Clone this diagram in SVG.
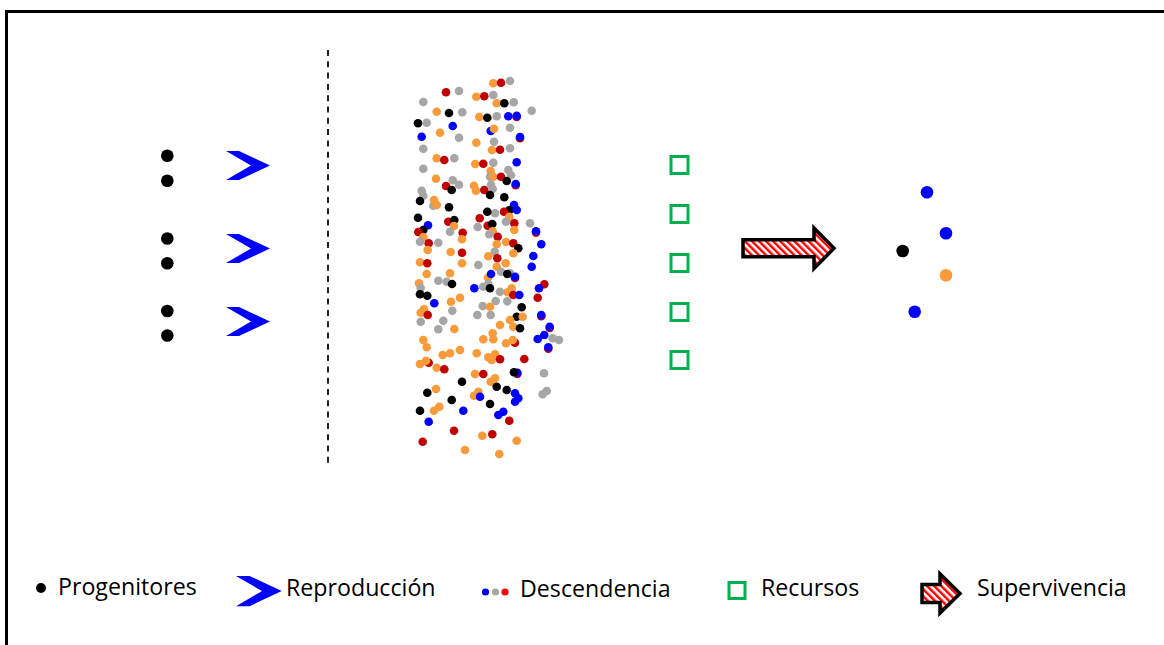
<svg xmlns="http://www.w3.org/2000/svg" width="1164" height="645" viewBox="0 0 1164 645">
<defs>
<style>
.o{fill:#F99A3B}.g{fill:#A6A6A6}.r{fill:#C00000}.k{fill:#000}.b{fill:#0000FF}
.chev{fill:#0000FF}
.res{fill:none;stroke:#00B050;stroke-width:3}
.surv{fill:url(#stripes);stroke:#000;stroke-width:3.5;stroke-linejoin:miter}
.lbl{font-family:"Open Sans","Liberation Sans",sans-serif;font-size:23.2px;fill:#000}
</style>
<pattern id="stripes" patternUnits="userSpaceOnUse" width="5" height="5" patternTransform="rotate(-45)">
<rect width="5" height="5" fill="#fff"/>
<rect width="2.5" height="5" fill="#FF0000"/>
</pattern>
<polygon id="chevron" points="0,0 13,0 44,14.5 13,29 0,29 25,14.5"/>
</defs>
<rect width="1164" height="645" fill="#fff"/>
<path d="M6.5,645 V11.5 H1164" fill="none" stroke="#000" stroke-width="3"/>

<g id="progenitores">
<circle class="k" cx="167.3" cy="155.7" r="6.3"/>
<circle class="k" cx="167.3" cy="180.8" r="6.3"/>
<circle class="k" cx="167.3" cy="238.5" r="6.3"/>
<circle class="k" cx="167.3" cy="263.3" r="6.3"/>
<circle class="k" cx="167.3" cy="311" r="6.3"/>
<circle class="k" cx="167.3" cy="335.5" r="6.3"/>
</g>

<g id="reproduccion">
<use href="#chevron" class="chev" x="226" y="151"/>
<use href="#chevron" class="chev" x="226" y="234"/>
<use href="#chevron" class="chev" x="226" y="307"/>
</g>

<g id="separador">
<line x1="328" y1="50" x2="328" y2="467" stroke="#222" stroke-width="2" stroke-dasharray="6,5.3"/>
</g>

<g id="descendencia">
<circle class="o" cx="493.3" cy="83.3" r="4.3"/>
<circle class="r" cx="501" cy="82.7" r="4.3"/>
<circle class="g" cx="510" cy="81" r="4.3"/>
<circle class="r" cx="446" cy="92.3" r="4.3"/>
<circle class="g" cx="459" cy="91" r="4.3"/>
<circle class="o" cx="476.3" cy="96.7" r="4.3"/>
<circle class="r" cx="484.3" cy="96.3" r="4.3"/>
<circle class="g" cx="493.3" cy="95" r="4.3"/>
<circle class="g" cx="423.3" cy="102" r="4.3"/>
<circle class="o" cx="496.7" cy="103.3" r="4.3"/>
<circle class="k" cx="504.3" cy="103.3" r="4.3"/>
<circle class="g" cx="513.7" cy="102.3" r="4.3"/>
<circle class="g" cx="531.7" cy="110.7" r="4.3"/>
<circle class="o" cx="436.7" cy="111.7" r="4.3"/>
<circle class="k" cx="449" cy="113" r="4.3"/>
<circle class="g" cx="462.3" cy="112.3" r="4.3"/>
<circle class="o" cx="479.3" cy="117" r="4.3"/>
<circle class="k" cx="487.3" cy="117.7" r="4.3"/>
<circle class="g" cx="496.7" cy="116.3" r="4.3"/>
<circle class="b" cx="508.3" cy="116.3" r="4.3"/>
<circle class="r" cx="516.7" cy="117" r="4.3"/>
<circle class="b" cx="516.7" cy="115.7" r="4.3"/>
<circle class="k" cx="418" cy="123.3" r="4.3"/>
<circle class="g" cx="426.7" cy="122.7" r="4.3"/>
<circle class="b" cx="452.7" cy="126" r="4.3"/>
<circle class="o" cx="440" cy="132.7" r="4.3"/>
<circle class="b" cx="490.7" cy="131" r="4.3"/>
<circle class="o" cx="494" cy="128.7" r="4.3"/>
<circle class="g" cx="510" cy="127.7" r="4.3"/>
<circle class="b" cx="421.7" cy="136.7" r="4.3"/>
<circle class="g" cx="459" cy="137.7" r="4.3"/>
<circle class="r" cx="520" cy="138.3" r="4.3"/>
<circle class="b" cx="520" cy="137" r="4.3"/>
<circle class="o" cx="476.3" cy="142.7" r="4.3"/>
<circle class="g" cx="494" cy="141.7" r="4.3"/>
<circle class="g" cx="423.3" cy="148.7" r="4.3"/>
<circle class="o" cx="492" cy="150" r="4.3"/>
<circle class="r" cx="500" cy="149.7" r="4.3"/>
<circle class="g" cx="510" cy="148.3" r="4.3"/>
<circle class="o" cx="436.7" cy="158.3" r="4.3"/>
<circle class="r" cx="444.3" cy="160" r="4.3"/>
<circle class="g" cx="454.3" cy="158.3" r="4.3"/>
<circle class="b" cx="516.7" cy="162.3" r="4.3"/>
<circle class="o" cx="475.3" cy="164" r="4.3"/>
<circle class="r" cx="483.3" cy="163.7" r="4.3"/>
<circle class="g" cx="493.3" cy="162.7" r="4.3"/>
<circle class="g" cx="423.3" cy="168.7" r="4.3"/>
<circle class="o" cx="490.7" cy="171" r="4.3"/>
<circle class="g" cx="508.3" cy="170" r="4.3"/>
<circle class="g" cx="490" cy="176.7" r="4.3"/>
<circle class="o" cx="493.3" cy="176.7" r="4.3"/>
<circle class="r" cx="501" cy="176.7" r="4.3"/>
<circle class="g" cx="511" cy="175.3" r="4.3"/>
<circle class="k" cx="506.7" cy="181" r="4.3"/>
<circle class="o" cx="436" cy="178.7" r="4.3"/>
<circle class="g" cx="452.7" cy="180.3" r="4.3"/>
<circle class="g" cx="459" cy="184.7" r="4.3"/>
<circle class="r" cx="446" cy="186" r="4.3"/>
<circle class="k" cx="451.7" cy="190" r="4.3"/>
<circle class="o" cx="474" cy="185.7" r="4.3"/>
<circle class="o" cx="476" cy="190.7" r="4.3"/>
<circle class="r" cx="484.3" cy="190" r="4.3"/>
<circle class="g" cx="491" cy="184.7" r="4.3"/>
<circle class="g" cx="492.7" cy="189" r="4.3"/>
<circle class="r" cx="515.7" cy="185.3" r="4.3"/>
<circle class="b" cx="515.7" cy="184" r="4.3"/>
<circle class="k" cx="490" cy="195" r="4.3"/>
<circle class="g" cx="421.7" cy="190.7" r="4.3"/>
<circle class="g" cx="423.3" cy="195.7" r="4.3"/>
<circle class="k" cx="420" cy="201" r="4.3"/>
<circle class="g" cx="433.3" cy="205.7" r="4.3"/>
<circle class="o" cx="434" cy="200" r="4.3"/>
<circle class="o" cx="436.7" cy="205" r="4.3"/>
<circle class="k" cx="449" cy="207.3" r="4.3"/>
<circle class="k" cx="504.3" cy="197.3" r="4.3"/>
<circle class="b" cx="514" cy="205" r="4.3"/>
<circle class="k" cx="509.3" cy="210.3" r="4.3"/>
<circle class="b" cx="516.7" cy="210" r="4.3"/>
<circle class="r" cx="504" cy="211.7" r="4.3"/>
<circle class="o" cx="509.3" cy="216.7" r="4.3"/>
<circle class="g" cx="495" cy="213.3" r="4.3"/>
<circle class="k" cx="487.3" cy="211.7" r="4.3"/>
<circle class="k" cx="418" cy="217.7" r="4.3"/>
<circle class="r" cx="479.7" cy="218.3" r="4.3"/>
<circle class="r" cx="448.3" cy="221.7" r="4.3"/>
<circle class="k" cx="454.3" cy="220" r="4.3"/>
<circle class="g" cx="506" cy="221.7" r="4.3"/>
<circle class="r" cx="514.3" cy="223.3" r="4.3"/>
<circle class="o" cx="514.3" cy="230" r="4.3"/>
<circle class="g" cx="530" cy="223.3" r="4.3"/>
<circle class="r" cx="536" cy="232.6" r="4.3"/>
<circle class="b" cx="536" cy="231.3" r="4.3"/>
<circle class="b" cx="428" cy="225.3" r="4.3"/>
<circle class="k" cx="423.3" cy="230" r="4.3"/>
<circle class="r" cx="418.3" cy="232" r="4.3"/>
<circle class="o" cx="423.3" cy="237" r="4.3"/>
<circle class="o" cx="454" cy="226" r="4.3"/>
<circle class="g" cx="477.7" cy="227" r="4.3"/>
<circle class="r" cx="487.7" cy="225.7" r="4.3"/>
<circle class="k" cx="492.3" cy="224" r="4.3"/>
<circle class="o" cx="492.7" cy="231.3" r="4.3"/>
<circle class="g" cx="489.3" cy="234.3" r="4.3"/>
<circle class="r" cx="497.7" cy="236.7" r="4.3"/>
<circle class="g" cx="450" cy="231.7" r="4.3"/>
<circle class="r" cx="462.7" cy="232.7" r="4.3"/>
<circle class="o" cx="462" cy="239.3" r="4.3"/>
<circle class="g" cx="420" cy="241.7" r="4.3"/>
<circle class="r" cx="428.7" cy="243.3" r="4.3"/>
<circle class="g" cx="438.3" cy="242.7" r="4.3"/>
<circle class="o" cx="427.7" cy="250" r="4.3"/>
<circle class="o" cx="450.7" cy="252" r="4.3"/>
<circle class="r" cx="462" cy="252.7" r="4.3"/>
<circle class="o" cx="496.7" cy="244.3" r="4.3"/>
<circle class="o" cx="506" cy="242" r="4.3"/>
<circle class="r" cx="513.3" cy="243.3" r="4.3"/>
<circle class="k" cx="518.3" cy="248.3" r="4.3"/>
<circle class="o" cx="513.3" cy="253.3" r="4.3"/>
<circle class="g" cx="494.7" cy="251.7" r="4.3"/>
<circle class="o" cx="488.3" cy="256.3" r="4.3"/>
<circle class="r" cx="497.3" cy="258.3" r="4.3"/>
<circle class="b" cx="541.3" cy="244.3" r="4.3"/>
<circle class="b" cx="533.3" cy="256" r="4.3"/>
<circle class="b" cx="531.7" cy="266.7" r="4.3"/>
<circle class="o" cx="420" cy="262.3" r="4.3"/>
<circle class="r" cx="427.3" cy="263.3" r="4.3"/>
<circle class="o" cx="462" cy="263.3" r="4.3"/>
<circle class="g" cx="478.3" cy="265" r="4.3"/>
<circle class="o" cx="505.7" cy="263.3" r="4.3"/>
<circle class="o" cx="496.7" cy="266.7" r="4.3"/>
<circle class="o" cx="426.7" cy="274" r="4.3"/>
<circle class="o" cx="450" cy="273.3" r="4.3"/>
<circle class="g" cx="438.3" cy="280.7" r="4.3"/>
<circle class="g" cx="446.7" cy="281.7" r="4.3"/>
<circle class="k" cx="452" cy="284" r="4.3"/>
<circle class="o" cx="419" cy="283.3" r="4.3"/>
<circle class="g" cx="420.7" cy="288" r="4.3"/>
<circle class="k" cx="420" cy="294.3" r="4.3"/>
<circle class="k" cx="427.3" cy="295.7" r="4.3"/>
<circle class="o" cx="488" cy="277.7" r="4.3"/>
<circle class="b" cx="491" cy="274" r="4.3"/>
<circle class="g" cx="501" cy="271.7" r="4.3"/>
<circle class="g" cx="510" cy="273.3" r="4.3"/>
<circle class="k" cx="507.3" cy="274" r="4.3"/>
<circle class="r" cx="515" cy="278" r="4.3"/>
<circle class="b" cx="515" cy="276.7" r="4.3"/>
<circle class="b" cx="474.3" cy="288.3" r="4.3"/>
<circle class="g" cx="483.3" cy="286.7" r="4.3"/>
<circle class="g" cx="488.3" cy="284" r="4.3"/>
<circle class="k" cx="490" cy="288.3" r="4.3"/>
<circle class="o" cx="511.7" cy="288.3" r="4.3"/>
<circle class="o" cx="507.7" cy="292.3" r="4.3"/>
<circle class="g" cx="500" cy="291.7" r="4.3"/>
<circle class="r" cx="513.3" cy="295" r="4.3"/>
<circle class="b" cx="519.3" cy="295" r="4.3"/>
<circle class="r" cx="544.3" cy="284.3" r="4.3"/>
<circle class="b" cx="539" cy="288.3" r="4.3"/>
<circle class="r" cx="537.7" cy="297.7" r="4.3"/>
<circle class="b" cx="434.3" cy="303.3" r="4.3"/>
<circle class="o" cx="460" cy="297.7" r="4.3"/>
<circle class="o" cx="451" cy="301.7" r="4.3"/>
<circle class="g" cx="495.7" cy="301" r="4.3"/>
<circle class="g" cx="507.3" cy="301.3" r="4.3"/>
<circle class="g" cx="482.7" cy="306" r="4.3"/>
<circle class="o" cx="490" cy="306.7" r="4.3"/>
<circle class="k" cx="521.7" cy="307.3" r="4.3"/>
<circle class="o" cx="424" cy="309.3" r="4.3"/>
<circle class="o" cx="420.7" cy="312.7" r="4.3"/>
<circle class="r" cx="427.7" cy="315" r="4.3"/>
<circle class="g" cx="452.3" cy="310.7" r="4.3"/>
<circle class="g" cx="477.3" cy="315" r="4.3"/>
<circle class="g" cx="490.7" cy="315" r="4.3"/>
<circle class="k" cx="516.7" cy="316.7" r="4.3"/>
<circle class="o" cx="522.7" cy="316.7" r="4.3"/>
<circle class="r" cx="541.3" cy="316.3" r="4.3"/>
<circle class="b" cx="541.3" cy="315" r="4.3"/>
<circle class="g" cx="420.7" cy="321.7" r="4.3"/>
<circle class="g" cx="443.3" cy="320.7" r="4.3"/>
<circle class="o" cx="500" cy="325" r="4.3"/>
<circle class="o" cx="510" cy="320" r="4.3"/>
<circle class="o" cx="513.3" cy="326.7" r="4.3"/>
<circle class="k" cx="520" cy="328.3" r="4.3"/>
<circle class="g" cx="438.3" cy="329.3" r="4.3"/>
<circle class="o" cx="454.3" cy="329" r="4.3"/>
<circle class="r" cx="549.7" cy="328" r="4.3"/>
<circle class="b" cx="549.7" cy="326.7" r="4.3"/>
<circle class="b" cx="544.3" cy="335" r="4.3"/>
<circle class="b" cx="537.7" cy="339" r="4.3"/>
<circle class="g" cx="552.7" cy="338.3" r="4.3"/>
<circle class="g" cx="559" cy="340" r="4.3"/>
<circle class="r" cx="548.3" cy="348.8" r="4.3"/>
<circle class="b" cx="548.3" cy="347.3" r="4.3"/>
<circle class="o" cx="492.7" cy="333.3" r="4.3"/>
<circle class="o" cx="493.3" cy="339.3" r="4.3"/>
<circle class="o" cx="483.3" cy="339.3" r="4.3"/>
<circle class="o" cx="423.3" cy="340" r="4.3"/>
<circle class="o" cx="426.7" cy="347.3" r="4.3"/>
<circle class="o" cx="506" cy="343.3" r="4.3"/>
<circle class="r" cx="515" cy="342.7" r="4.3"/>
<circle class="o" cx="512.7" cy="340" r="4.3"/>
<circle class="o" cx="460" cy="350" r="4.3"/>
<circle class="o" cx="450" cy="353.3" r="4.3"/>
<circle class="o" cx="442.7" cy="355" r="4.3"/>
<circle class="o" cx="476.7" cy="353.3" r="4.3"/>
<circle class="o" cx="495" cy="354.3" r="4.3"/>
<circle class="o" cx="488.3" cy="357.3" r="4.3"/>
<circle class="o" cx="491.7" cy="360" r="4.3"/>
<circle class="r" cx="500" cy="359.3" r="4.3"/>
<circle class="r" cx="524.3" cy="359" r="4.3"/>
<circle class="r" cx="428.7" cy="362.7" r="4.3"/>
<circle class="o" cx="426" cy="360.7" r="4.3"/>
<circle class="o" cx="420" cy="364" r="4.3"/>
<circle class="o" cx="436.7" cy="367.7" r="4.3"/>
<circle class="r" cx="444.3" cy="369.3" r="4.3"/>
<circle class="o" cx="475" cy="374" r="4.3"/>
<circle class="r" cx="483.3" cy="374" r="4.3"/>
<circle class="r" cx="517.3" cy="374" r="4.3"/>
<circle class="b" cx="517.3" cy="372.7" r="4.3"/>
<circle class="k" cx="514" cy="372.3" r="4.3"/>
<circle class="g" cx="544" cy="373.3" r="4.3"/>
<circle class="o" cx="495" cy="378.3" r="4.3"/>
<circle class="o" cx="490.7" cy="381.7" r="4.3"/>
<circle class="k" cx="462" cy="381.7" r="4.3"/>
<circle class="k" cx="496.7" cy="386.7" r="4.3"/>
<circle class="o" cx="436" cy="389" r="4.3"/>
<circle class="k" cx="427.3" cy="392.7" r="4.3"/>
<circle class="k" cx="506.7" cy="390" r="4.3"/>
<circle class="o" cx="478.3" cy="391.7" r="4.3"/>
<circle class="o" cx="474" cy="395.7" r="4.3"/>
<circle class="b" cx="480" cy="396.7" r="4.3"/>
<circle class="b" cx="515" cy="393.3" r="4.3"/>
<circle class="b" cx="518.3" cy="398.3" r="4.3"/>
<circle class="b" cx="515" cy="401.7" r="4.3"/>
<circle class="g" cx="546.7" cy="391" r="4.3"/>
<circle class="g" cx="542.7" cy="394.3" r="4.3"/>
<circle class="k" cx="451.7" cy="400" r="4.3"/>
<circle class="o" cx="439.3" cy="406.7" r="4.3"/>
<circle class="o" cx="434" cy="410.7" r="4.3"/>
<circle class="k" cx="420" cy="410.7" r="4.3"/>
<circle class="k" cx="490" cy="404" r="4.3"/>
<circle class="b" cx="463.3" cy="410.7" r="4.3"/>
<circle class="b" cx="503.3" cy="411.7" r="4.3"/>
<circle class="b" cx="498.3" cy="415" r="4.3"/>
<circle class="r" cx="509.3" cy="420.7" r="4.3"/>
<circle class="b" cx="428.7" cy="421.7" r="4.3"/>
<circle class="r" cx="454" cy="430.7" r="4.3"/>
<circle class="o" cx="482.3" cy="435.7" r="4.3"/>
<circle class="r" cx="492.3" cy="434.3" r="4.3"/>
<circle class="o" cx="516.7" cy="440.7" r="4.3"/>
<circle class="r" cx="422.7" cy="441.7" r="4.3"/>
<circle class="o" cx="465" cy="450" r="4.3"/>
<circle class="o" cx="499.3" cy="454" r="4.3"/>
</g>

<g id="recursos">
<rect class="res" x="671" y="156.5" width="17" height="17"/>
<rect class="res" x="671" y="205.5" width="17" height="17"/>
<rect class="res" x="671" y="254.5" width="17" height="17"/>
<rect class="res" x="671" y="303.5" width="17" height="17"/>
<rect class="res" x="671" y="351.5" width="17" height="17"/>
</g>

<g id="supervivencia">
<polygon class="surv" points="743,239.8 814,239.8 814,228 834,248.3 814,268.6 814,256.8 743,256.8"/>
</g>

<g id="supervivientes">
<circle class="b" cx="927" cy="192.3" r="6.3"/>
<circle class="b" cx="946" cy="233.3" r="6.3"/>
<circle class="k" cx="902.7" cy="251" r="6.3"/>
<circle class="o" cx="946" cy="275.3" r="6.3"/>
<circle class="b" cx="914.7" cy="311.7" r="6.3"/>
</g>

<g id="leyenda">
<circle class="k" cx="41" cy="588" r="5"/>
<text class="lbl" x="58" y="595">Progenitores</text>
<use href="#chevron" class="chev" transform="translate(236,576) scale(1.04,1.04)"/>
<text class="lbl" x="286" y="596">Reproducción</text>
<circle cx="485.5" cy="592" r="3.6" fill="#0000FF"/>
<circle cx="495.5" cy="592" r="3.6" fill="#A6A6A6"/>
<circle cx="505" cy="592" r="3.6" fill="#FF0000"/>
<text class="lbl" x="520" y="597">Descendencia</text>
<rect class="res" x="729" y="582.5" width="16" height="16"/>
<text class="lbl" x="761" y="596">Recursos</text>
<polygon class="surv" points="922,584.5 940,584.5 940,574 960,593.5 940,613 940,602.5 922,602.5"/>
<text class="lbl" x="977" y="596">Supervivencia</text>
</g>
</svg>
